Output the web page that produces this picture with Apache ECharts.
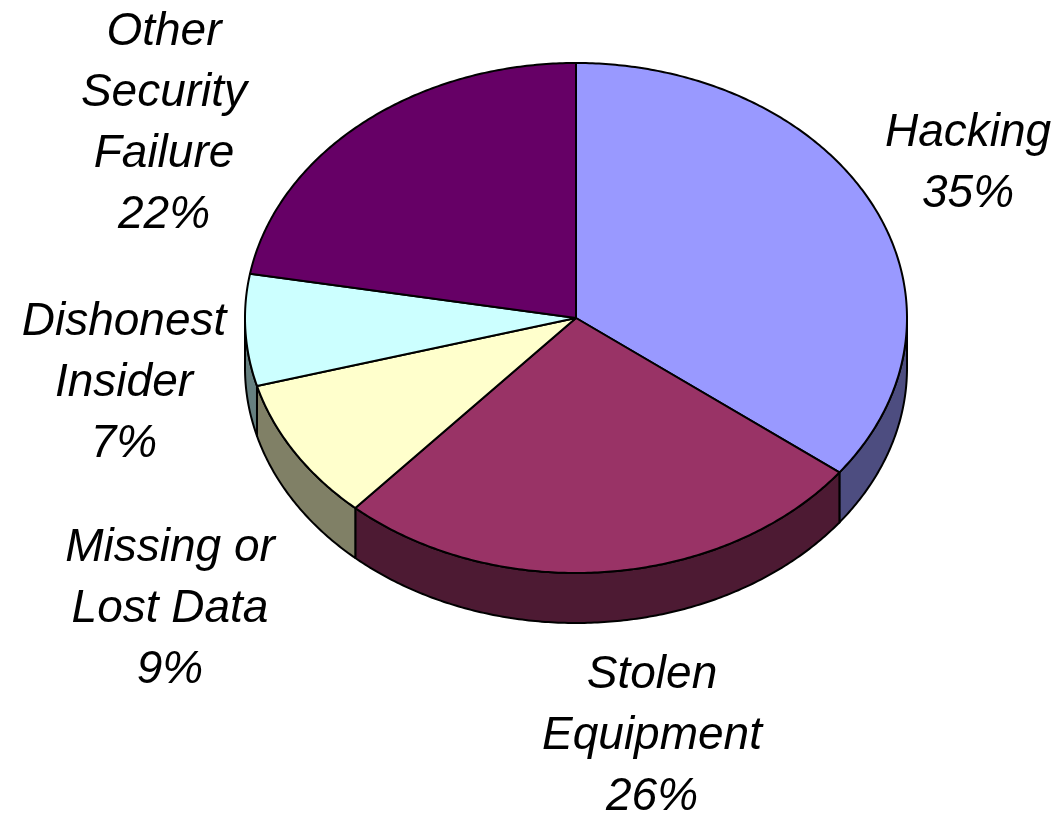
<!DOCTYPE html>
<html>
<head>
<meta charset="utf-8">
<script src="https://cdn.jsdelivr.net/npm/echarts@6/dist/echarts.min.js"></script>
<style>html,body{margin:0;padding:0;background:#fff;}#chart{width:1057px;height:815px;}</style>
</head>
<body>
<div id="chart"></div>
<script>
// Data
var categories = ['Hacking', 'Stolen Equipment', 'Missing or Lost Data', 'Dishonest Insider', 'Other Security Failure'];
var values = [35, 26, 9, 7, 22];
var labelLines = [['Hacking'], ['Stolen', 'Equipment'], ['Missing or', 'Lost Data'], ['Dishonest', 'Insider'], ['Other', 'Security', 'Failure']];

// Styles / layout
var topColors = ['#9999FF', '#993366', '#FFFFCC', '#CCFFFF', '#660066'];
var sideColors = ['#4D4D80', '#4D1A33', '#808066', '#668080', '#330033'];
var labelPos = [[968, 164], [652, 736], [170, 609], [124, 383], [164, 124]];
var CX = 576, CY = 318, RX = 331, RY = 255, DEPTH = 50;

var total = values.reduce(function (a, b) { return a + b; }, 0);
var starts = [];
(function () { var acc = 0; for (var i = 0; i < values.length; i++) { starts.push(acc); acc += values[i]; } })();

function pt(theta, dy) {
  return [CX + RX * Math.sin(theta), CY - RY * Math.cos(theta) + (dy || 0)];
}
function arc(a0, a1, dy) {
  var pts = [];
  var n = Math.max(2, Math.ceil((a1 - a0) / 0.01));
  for (var k = 0; k <= n; k++) pts.push(pt(a0 + (a1 - a0) * k / n, dy));
  return pts;
}

var chart = echarts.init(document.getElementById('chart'));
chart.setOption({
  animation: false,
  series: [{
    type: 'custom',
    coordinateSystem: 'none',
    data: values.map(function (v, i) { return [v, starts[i], i]; }),
    renderItem: function (params, api) {
      var v = api.value(0), s = api.value(1), i = api.value(2);
      var a0 = s / total * 2 * Math.PI, a1 = (s + v) / total * 2 * Math.PI;
      var children = [];
      var f0 = Math.max(a0, Math.PI / 2), f1 = Math.min(a1, 3 * Math.PI / 2);
      if (f1 > f0) {
        var topArc = arc(f0, f1, 0);
        var botArc = arc(f0, f1, DEPTH).reverse();
        children.push({
          type: 'polygon',
          shape: { points: topArc.concat(botArc) },
          style: { fill: sideColors[i], stroke: '#000', lineWidth: 2, lineJoin: 'round' }
        });
      }
      children.push({
        type: 'polygon',
        shape: { points: [[CX, CY]].concat(arc(a0, a1, 0)) },
        style: { fill: topColors[i], stroke: '#000', lineWidth: 2, lineJoin: 'round' }
      });
      var pct = v + '%';
      children.push({
        type: 'text',
        x: labelPos[i][0], y: labelPos[i][1],
        style: {
          text: labelLines[i].concat([pct]).join('\n'),
          fontFamily: 'Liberation Sans, Arial, sans-serif',
          fontStyle: 'italic',
          fontSize: 46,
          lineHeight: 61,
          fill: '#000',
          align: 'center',
          verticalAlign: 'middle'
        }
      });
      return { type: 'group', children: children };
    }
  }]
});
</script>
</body>
</html>
